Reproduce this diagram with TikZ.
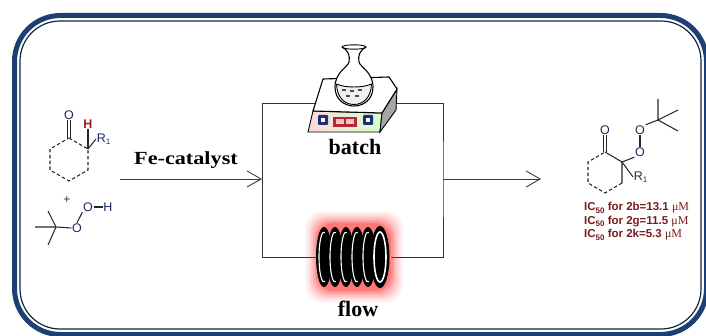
\documentclass[tikz,border=0pt]{standalone}
\usepackage{fontspec}
\setmainfont{Liberation Serif}
\newfontfamily\chemsans{Liberation Sans}
\usetikzlibrary{arrows.meta,calc}
\definecolor{framenavy}{HTML}{1C3F74}
\definecolor{framedark}{HTML}{14243A}
\definecolor{atomnavy}{HTML}{1A2A5C}
\definecolor{hred}{HTML}{A01818}
\definecolor{icred}{HTML}{7A1C1C}
\definecolor{arrowgray}{HTML}{2F3B4C}
\definecolor{knobblue}{HTML}{1E2F7A}
\definecolor{displayred}{HTML}{B0283A}
\tikzset{
  bond/.style={line width=1.05pt, black!85},
  dbond/.style={bond, dash pattern=on 3.4pt off 2.4pt},
  atom/.style={font=\chemsans\fontsize{12.5}{12.5}\selectfont, text=atomnavy, inner sep=0.6pt},
  wire/.style={line width=0.9pt, black!80},
  flowarrow/.style={line width=0.9pt, arrowgray, -{Straight Barb[length=14pt,width=16pt,line width=0.9pt]}},
  lbl/.style={font=\bfseries\fontsize{22}{22}\selectfont, inner sep=0pt},
  ictext/.style={font=\chemsans\bfseries\fontsize{11.5}{14}\selectfont, text=icred, inner sep=0pt, anchor=west},
}
\newcommand{\icsub}{\raisebox{-2.2pt}{\fontsize{8}{8}\selectfont 50}}
\newcommand{\micro}{{\rmfamily\mdseries\fontsize{12}{14}\selectfont μM}}
\newcommand{\rone}{R\raisebox{-2.2pt}{\fontsize{8}{8}\selectfont 1}}
\begin{document}
\begin{tikzpicture}[x=1pt,y=-1pt]
\useasboundingbox (0,0) rectangle (706,336);

% double rounded frame
\draw[framenavy, line width=5pt, rounded corners=46pt] (14.5,15.5) rectangle (706.5,334.5);
\draw[framedark, line width=1.2pt, rounded corners=40pt] (20,21) rectangle (701,329);

% ---------- reactants ----------
\coordinate (a1) at (69,138);
\coordinate (a2) at (88,149);
\coordinate (a3) at (88,170);
\coordinate (a4) at (69,181);
\coordinate (a5) at (50,170);
\coordinate (a6) at (50,149);
\node[atom] (aO) at (69,115) {O};
\node[atom, text=hred, font=\chemsans\bfseries\fontsize{12.5}{12.5}\selectfont] (aH) at (88,124) {H};
\node[atom, anchor=west] (aR) at (96,139) {\rone};
\draw[bond] ($(a1)+(-1.2,0)$) -- ($(aO.south)+(-1.2,0)$);
\draw[bond] ($(a1)+(1.2,0)$) -- ($(aO.south)+(1.2,0)$);
\draw[dbond] (a1) -- (a2) -- (a3) -- (a4) -- (a5) -- (a6) -- (a1);
\draw[bond] (a2) -- (aH.south);
\draw[bond] (a2) -- (aR.west);
\node[font=\chemsans\fontsize{12}{12}\selectfont, text=black!80] (plus) at (67,200) {+};

% tert-butyl hydroperoxide
\coordinate (tc) at (56,227);
\coordinate (tm1) at (48,211);
\coordinate (tm2) at (35,227);
\coordinate (tm3) at (48,245);
\node[atom] (tO1) at (77,228) {O};
\node[atom] (tO2) at (88,207) {O};
\node[atom] (tH) at (108,207) {H};
\draw[bond] (tm1) -- (tc) -- (tm3);
\draw[bond] (tm2) -- (tc) -- (tO1.west);
\draw[bond] (tO1.north) -- (tO2.south west);
\draw[bond] (tO2.east) -- (tH.west);

% ---------- catalyst arrow and the two branches ----------
\coordinate (start) at (120,179);
\coordinate (split) at (262,179);
\coordinate (merge) at (443,179);
\coordinate (tl) at (262,103);
\coordinate (tr) at (443,103);
\coordinate (bl) at (262,257);
\coordinate (br) at (443,257);
\coordinate (finish) at (541,179);
\node[font=\bfseries\fontsize{18.5}{18.5}\selectfont, inner sep=0pt] (cat) at (186,160) {\scalebox{1.2}[1]{Fe-catalyst}};
\draw[flowarrow] (start) -- (split);
\draw[wire] (split) -- (tl) -- (tr) -- (merge) -- (br) -- (bl) -- (split);
\draw[flowarrow] (merge) -- (finish);

% ---------- batch: hot plate with flask ----------
\fill[white] (307,112) -- (313,111) -- (323,79) -- (389,77) -- (398,90) -- (396,112) -- (381,133) -- (306,133) -- cycle;
% front face
\shade[left color=red!15, right color=yellow!25!green!20, draw=black, line width=0.9pt]
  (313,111) -- (382,113) -- (380,132) -- (308,132) -- cycle;
% side face
\fill[black!35, draw=black, line width=0.9pt] (382,113) -- (397,89) -- (396,110) -- (380,132) -- cycle;
% top face
\draw[fill=white, line width=1.1pt, line join=round] (313,111) -- (323,79) -- (389,77) -- (397,89) -- (382,113) -- cycle;
% knobs and display
\fill[knobblue, rounded corners=1pt] (318,115) rectangle (328,125);
\fill[white] (321,118) rectangle (325,122);
\fill[knobblue, rounded corners=1pt] (363,115) rectangle (373,125);
\fill[white] (366,118) rectangle (370,122);
\fill[displayred] (333,117) rectangle (357,127);
\fill[red!25] (336,119.5) rectangle (344,124.5);
\fill[red!25] (346,119.5) rectangle (354,124.5);
% flask
\draw[fill=white, line width=1.1pt, line join=round]
  (342,47) .. controls (349,51) and (350,56) .. (349,62)
  .. controls (348,67) and (335,72) .. (335,87)
  .. controls (335,100) and (345,106) .. (354,106)
  .. controls (363,106) and (373,100) .. (373,87)
  .. controls (373,72) and (360,67) .. (359,62)
  .. controls (358,56) and (359,51) .. (366,47);
\draw[line width=0.9pt] (354,47) ellipse[x radius=12, y radius=2.2];
\draw[line width=0.9pt, fill=black!6] (336.5,84) .. controls (345,88) and (363,88) .. (371.5,84)
  .. controls (371,98) and (363,104.5) .. (354,104.5)
  .. controls (345,104.5) and (337,98) .. (336.5,84);
\foreach \p in {(344,90),(352,91),(360,90),(348,96),(357,96)}
  \fill[black!70] \p ++(-1.6,-0.8) rectangle ++(3.2,1.6);
\node[lbl] (batch) at (355,147) {batch};

% ---------- flow: heated coil reactor ----------
\foreach \s/\o in {13/0.04, 11/0.05, 9/0.07, 7/0.09, 5/0.11, 3/0.14, 1/0.2}
  \fill[red, opacity=\o, rounded corners=16pt] (318-\s,224-\s) rectangle (390+\s,290+\s);
\foreach \i in {0,...,4} {
  \coordinate (ring) at (324+11*\i,257);
  \fill[black] (ring) ellipse[x radius=8, y radius=30];
  \draw[white, line width=1.1pt] (ring) ++(80:5 and 25) arc[start angle=80, end angle=280, x radius=5, y radius=25];
}
\coordinate (lastring) at (380,257);
\fill[black] (lastring) ellipse[x radius=9.5, y radius=31];
\draw[white, line width=1.6pt] (lastring) ellipse[x radius=6, y radius=25];
\draw[white, line width=0.8pt] ($(lastring)+(9.5,0)$) -- ($(lastring)+(11,0)$);
\node[lbl] (flow) at (358,309) {flow};

% ---------- product ----------
\coordinate (p1) at (605,152);
\coordinate (p2) at (622,162);
\coordinate (p3) at (622,183);
\coordinate (p4) at (605,193);
\coordinate (p5) at (588,183);
\coordinate (p6) at (588,162);
\node[atom] (pO) at (605,130) {O};
\node[atom] (pOa) at (640,152) {O};
\node[atom] (pOb) at (640,130) {O};
\node[atom, anchor=west] (pR) at (633,177) {\rone};
\coordinate (pc) at (658,120);
\coordinate (pm1) at (658,99);
\coordinate (pm2) at (678,110);
\coordinate (pm3) at (678,131);
\draw[bond] ($(p1)+(-1.2,0)$) -- ($(pO.south)+(-1.2,0)$);
\draw[bond] ($(p1)+(1.2,0)$) -- ($(pO.south)+(1.2,0)$);
\draw[bond] (p1) -- (p2) -- (p3);
\draw[dbond] (p3) -- (p4) -- (p5) -- (p6) -- (p1);
\draw[bond] (p2) -- (pOa.south west);
\draw[bond] (pOa.north) -- (pOb.south);
\draw[bond] (pOb.north east) -- (pc);
\draw[bond] (pm1) -- (pc) -- (pm2);
\draw[bond] (pc) -- (pm3);
\draw[bond] (p2) -- (pR.west);
\node[ictext] (ic1) at (584,208) {IC\icsub{} for 2b=13.1 \micro};
\node[ictext] (ic2) at (584,221.5) {IC\icsub{} for 2g=11.5 \micro};
\node[ictext] (ic3) at (584,235) {IC\icsub{} for 2k=5.3 \micro};
\end{tikzpicture}
\end{document}
